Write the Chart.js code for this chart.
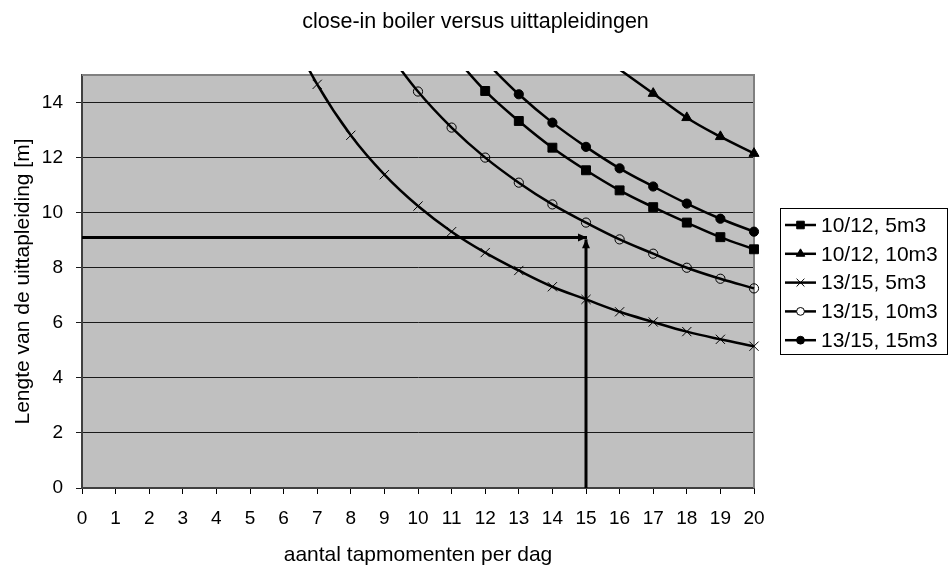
<!DOCTYPE html>
<html><head><meta charset="utf-8">
<script src="https://cdn.jsdelivr.net/npm/chart.js@4/dist/chart.umd.min.js"></script>
<style>html,body{margin:0;padding:0;background:#fff}#wrap{width:951px;height:565px;position:relative}</style>
</head><body><div id="wrap"><canvas id="c"></canvas></div>
<script>
// ---- data ----
const chartTitle = 'close-in boiler versus uittapleidingen';
const xTitle = 'aantal tapmomenten per dag';
const yTitle = 'Lengte van de uittapleiding [m]';
const xTickValues = [0,1,2,3,4,5,6,7,8,9,10,11,12,13,14,15,16,17,18,19,20];
const yTickValues = [0,2,4,6,8,10,12,14];
const seriesNames = ['10/12, 5m3','10/12, 10m3','13/15, 5m3','13/15, 10m3','13/15, 15m3'];

const x_10_12_5m3  = [11,12,13,14,15,16,17,18,19,20];
const y_10_12_5m3  = [15.8,14.42,13.33,12.36,11.54,10.81,10.2,9.64,9.11,8.67];
const x_10_12_10m3 = [16,17,18,19,20];
const y_10_12_10m3 = [15.2,14.33,13.45,12.76,12.15];
const x_13_15_5m3  = [6,7,8,9,10,11,12,13,14,15,16,17,18,19,20];
const y_13_15_5m3  = [17.0,14.66,12.81,11.38,10.24,9.31,8.55,7.9,7.31,6.85,6.4,6.03,5.68,5.4,5.15];
const x_13_15_10m3 = [9,10,11,12,13,14,15,16,17,18,19,20];
const y_13_15_10m3 = [16.0,14.4,13.09,12.0,11.09,10.3,9.64,9.03,8.51,8.0,7.6,7.25];
const x_13_15_15m3 = [12,13,14,15,16,17,18,19,20];
const y_13_15_15m3 = [15.5,14.3,13.27,12.39,11.61,10.95,10.33,9.78,9.31];

// reading guide (arrows)
const guideHX = [0,15.03];
const guideHY = [9.1,9.1];
const guideVX = [15,15];
const guideVY = [0,9.03];

const Y_MAX = 15;
const pts = (xs, ys) => xs.map((x,i)=>({x:x, y:ys[i]}));

const FONT = '"Liberation Sans", Arial, Helvetica, sans-serif';
const markerStyles = ['rect','triangle','crossRot','circle','circle'];
const markerFill = ['#000','#000','#000','rgba(0,0,0,0)','#000'];
const markerRadius = [6.3,5.8,6.5,4.6,4.6];

const seriesData = [
  pts(x_10_12_5m3, y_10_12_5m3),
  pts(x_10_12_10m3, y_10_12_10m3),
  pts(x_13_15_5m3, y_13_15_5m3),
  pts(x_13_15_10m3, y_13_15_10m3),
  pts(x_13_15_15m3, y_13_15_15m3)
];

const datasets = seriesData.map((d,i)=>({
  label: seriesNames[i],
  data: d,
  borderColor: '#000',
  borderWidth: 2.5,
  backgroundColor: markerFill[i],
  pointStyle: markerStyles[i],
  pointBackgroundColor: markerFill[i],
  pointBorderColor: '#000',
  pointBorderWidth: 1,
  pointRadius: ctx => (ctx.raw && ctx.raw.y > Y_MAX) ? 0 : markerRadius[i],
  pointHoverRadius: ctx => (ctx.raw && ctx.raw.y > Y_MAX) ? 0 : markerRadius[i],
  tension: 0.4,
  fill: false,
  clip: {left: 0, top: 4, right: 8, bottom: 0}
}));
datasets.push({label: '_guideH', data: pts(guideHX, guideHY), borderColor:'#000', borderWidth:3, pointRadius:0, tension:0, fill:false, arrow:true});
datasets.push({label: '_guideV', data: pts(guideVX, guideVY), borderColor:'#000', borderWidth:3, pointRadius:0, tension:0, fill:false, arrow:true});

function drawMarker(ctx, style, x, y, r, fill){
  ctx.save();
  ctx.strokeStyle = '#000'; ctx.fillStyle = fill; ctx.lineWidth = 1;
  ctx.beginPath();
  if (style === 'rect') { const s = r*Math.SQRT1_2; ctx.rect(x-s,y-s,2*s,2*s); ctx.fill(); ctx.stroke(); }
  else if (style === 'triangle') {
    const a = -Math.PI/2;
    for (let k=0;k<3;k++){ const ang = a + k*2*Math.PI/3; const px = x + Math.cos(ang)*r, py = y + Math.sin(ang)*r; if(k===0) ctx.moveTo(px,py); else ctx.lineTo(px,py); }
    ctx.closePath(); ctx.fill(); ctx.stroke();
  } else if (style === 'crossRot') {
    const o = r*Math.SQRT1_2; ctx.moveTo(x-o,y-o); ctx.lineTo(x+o,y+o); ctx.moveTo(x-o,y+o); ctx.lineTo(x+o,y-o); ctx.stroke();
  } else { ctx.arc(x,y,r,0,Math.PI*2); ctx.fill(); ctx.stroke(); }
  ctx.restore();
}

const plotFrame = {
  id: 'plotFrame',
  beforeDraw(chart){
    const {ctx, chartArea:a} = chart;
    ctx.save(); ctx.fillStyle = '#c0c0c0'; ctx.fillRect(a.left, a.top, a.right-a.left, a.bottom-a.top); ctx.restore();
  },
  beforeDatasetsDraw(chart){
    const {ctx, chartArea:a} = chart;
    ctx.save(); ctx.strokeStyle = '#808080'; ctx.lineWidth = 2;
    ctx.beginPath(); ctx.moveTo(a.left, a.top); ctx.lineTo(a.right, a.top); ctx.lineTo(a.right, a.bottom); ctx.stroke();
    ctx.restore();
  },
  afterDatasetsDraw(chart){
    const ctx = chart.ctx;
    chart.data.datasets.forEach((ds, i) => {
      if (!ds.arrow) return;
      const m = chart.getDatasetMeta(i).data;
      const p1 = m[m.length-2], p2 = m[m.length-1];
      const ang = Math.atan2(p2.y-p1.y, p2.x-p1.x);
      const L = 9, W = 4;
      ctx.save(); ctx.fillStyle = '#000'; ctx.beginPath();
      ctx.moveTo(p2.x, p2.y);
      ctx.lineTo(p2.x - L*Math.cos(ang) + W*Math.sin(ang), p2.y - L*Math.sin(ang) - W*Math.cos(ang));
      ctx.lineTo(p2.x - L*Math.cos(ang) - W*Math.sin(ang), p2.y - L*Math.sin(ang) + W*Math.cos(ang));
      ctx.closePath(); ctx.fill(); ctx.restore();
    });
  },
  afterDraw(chart){
    const ctx = chart.ctx;
    // legend
    const bx = 780.5, by = 208.5, bw = 167, bh = 146;
    ctx.save();
    ctx.fillStyle = '#fff'; ctx.fillRect(bx, by, bw, bh);
    ctx.strokeStyle = '#000'; ctx.lineWidth = 1; ctx.strokeRect(bx, by, bw, bh);
    ctx.font = '21px ' + FONT; ctx.textBaseline = 'middle'; ctx.textAlign = 'left';
    seriesNames.forEach((name, i) => {
      const y = 225 + i*28.8;
      ctx.strokeStyle = '#000'; ctx.lineWidth = 2.5;
      ctx.beginPath(); ctx.moveTo(785, y); ctx.lineTo(816, y); ctx.stroke();
      drawMarker(ctx, markerStyles[i], 800.5, y, markerRadius[i]*0.85, markerFill[i] === '#000' ? '#000' : '#fff');
      ctx.fillStyle = '#000';
      ctx.fillText(name, 821, y + 1);
    });
    ctx.restore();
  }
};

new Chart(document.getElementById('c'), {
  type: 'line',
  data: { datasets },
  options: {
    responsive: true,
    maintainAspectRatio: false,
    animation: false,
    layout: { padding: 0 },
    plugins: {
      legend: { display: false },
      tooltip: { enabled: false },
      title: {
        display: true, text: chartTitle, color: '#000',
        font: { family: FONT, size: 21.5, weight: 'normal', lineHeight: 1.2 },
        padding: { top: 9, bottom: 40.2 }
      }
    },
    scales: {
      x: {
        type: 'linear', min: 0, max: 20,
        afterBuildTicks: s => { s.ticks = xTickValues.map(v => ({value: v})); },
        afterFit: s => { s.height = 77; },
        ticks: { color: '#000', font: { family: FONT, size: 19 }, padding: 13, maxRotation: 0, autoSkip: false },
        grid: { drawOnChartArea: false, drawTicks: true, tickLength: 6, color: '#000', lineWidth: 1 },
        border: { display: true, color: '#404040', width: 2 },
        title: { display: true, text: xTitle, color: '#000', font: { family: FONT, size: 21, lineHeight: 0.95 }, padding: { top: 0, bottom: 0 } }
      },
      y: {
        type: 'linear', min: 0, max: Y_MAX,
        afterBuildTicks: s => { s.ticks = yTickValues.map(v => ({value: v})); },
        afterFit: s => { s.width = 82; },
        ticks: { color: '#000', font: { family: FONT, size: 19 }, padding: 13 },
        grid: { color: '#1a1a1a', lineWidth: 1, tickLength: 6, drawTicks: true },
        border: { display: true, color: '#404040', width: 2 },
        title: { display: true, text: yTitle, color: '#000', font: { family: FONT, size: 21, lineHeight: 1 }, padding: { top: 12.5, bottom: 0 } }
      },
      legendSpace: {
        type: 'linear', position: 'right', min: 0, max: 1,
        afterFit: s => { s.width = 197; },
        ticks: { display: false },
        grid: { display: false, drawOnChartArea: false, drawTicks: false },
        border: { display: false }
      }
    }
  },
  plugins: [plotFrame]
});
</script>
</body></html>
